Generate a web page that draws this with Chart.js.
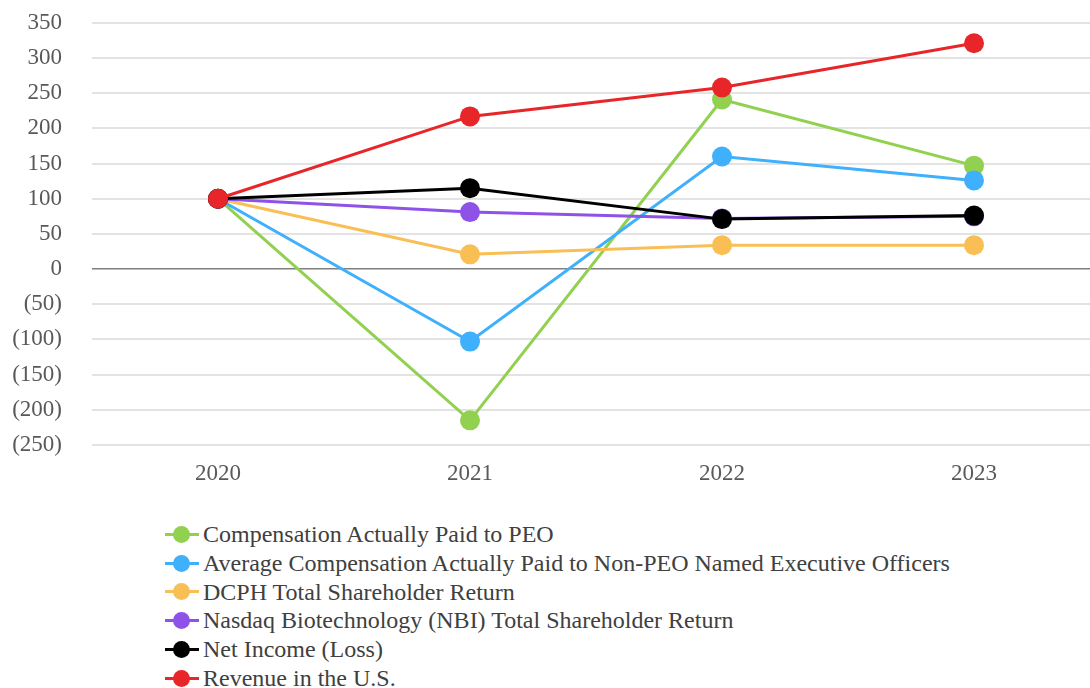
<!DOCTYPE html>
<html>
<head>
<meta charset="utf-8">
<script src="https://cdn.jsdelivr.net/npm/chart.js@4.4.1/dist/chart.umd.min.js"></script>
<style>
  html, body { margin: 0; padding: 0; background: #fff; overflow: hidden; width: 1090px; height: 688px; }
  #wrap { position: relative; width: 1090px; height: 688px; overflow: hidden; }
  #chart { position: absolute; left: 0; top: -21px; }
  #legend { position: absolute; left: 165px; top: 520px; font-family: "Liberation Serif", "DejaVu Serif", serif; font-size: 24px; color: #404040; }
  .item { height: 28.8px; line-height: 28.8px; display: flex; align-items: center; white-space: nowrap; }
  .mark { position: relative; width: 34px; height: 20px; margin-right: 4px; flex: none; }
  .mark .ln { position: absolute; left: 0; right: 0; top: 8.5px; height: 3px; }
  .mark .dot { position: absolute; left: 8px; top: 1.5px; width: 17px; height: 17px; border-radius: 50%; }
</style>
</head>
<body>
<div id="wrap">
  <canvas id="chart" width="1110" height="521"></canvas>
  <div id="legend"></div>
</div>
<script>
// 연도
const years = ['2020', '2021', '2022', '2023'];

// 시리즈 값
const peoPaid = [100, -215, 241, 147];
const nonPeoPaid = [100, -103, 160, 126];
const dcphTsr = [100, 21, 34, 34];
const nbiTsr = [100, 81, 72, 75];
const netIncome = [100, 115, 71, 76];
const usRevenue = [100, 217, 258, 321];

const seriesNames = [
  'Compensation Actually Paid to PEO',
  'Average Compensation Actually Paid to Non-PEO Named Executive Officers',
  'DCPH Total Shareholder Return',
  'Nasdaq Biotechnology (NBI) Total Shareholder Return',
  'Net Income (Loss)',
  'Revenue in the U.S.'
];
const seriesColors = ['#92d050', '#3fb0fb', '#f9bf55', '#8e52e8', '#000000', '#e8262a'];
const seriesData = [peoPaid, nonPeoPaid, dcphTsr, nbiTsr, netIncome, usRevenue];

const datasets = seriesData.map((d, i) => ({
  label: seriesNames[i],
  data: d,
  borderColor: seriesColors[i],
  backgroundColor: seriesColors[i],
  pointBackgroundColor: seriesColors[i],
  pointBorderWidth: 0,
  pointRadius: 10,
  borderWidth: 3,
  tension: 0,
  // 빨간선이 제일 위에 그려지도록
  order: seriesData.length - i
}));

function fmt(v) {
  if (v < 0) return '(' + Math.abs(v) + ')';
  return String(v);
}

const ctx = document.getElementById('chart').getContext('2d');
new Chart(ctx, {
  type: 'line',
  data: { labels: years, datasets: datasets },
  options: {
    responsive: false,
    animation: false,
    layout: { padding: { top: 3, right: 0, bottom: 0, left: 0 } },
    plugins: {
      legend: { display: false },
      tooltip: { enabled: false }
    },
    scales: {
      x: {
        offset: true,
        grid: { display: false },
        border: { display: false },
        ticks: {
          color: '#595959',
          font: { family: 'Liberation Serif', size: 23 },
          padding: 7
        },
        afterFit: (scale) => { scale.height = 55; }
      },
      y: {
        min: -250,
        max: 350,
        border: { display: false },
        grid: {
          color: (c) => c.tick && c.tick.value === 0 ? '#7f7f7f' : '#e3e3e3',
          lineWidth: (c) => c.tick && c.tick.value === 0 ? 1.5 : 2,
          drawTicks: false
        },
        ticks: {
          stepSize: 50,
          color: '#595959',
          font: { family: 'Liberation Serif', size: 23 },
          padding: 30,
          callback: (v) => fmt(v)
        },
        afterFit: (scale) => { scale.width = 92; }
      }
    }
  }
});

// 범례
const legendEl = document.getElementById('legend');
seriesNames.forEach((name, i) => {
  const item = document.createElement('div');
  item.className = 'item';
  item.innerHTML = '<span class="mark"><span class="ln" style="background:' + seriesColors[i] + '"></span>' +
    '<span class="dot" style="background:' + seriesColors[i] + '"></span></span>' + name;
  legendEl.appendChild(item);
});
</script>
</body>
</html>
